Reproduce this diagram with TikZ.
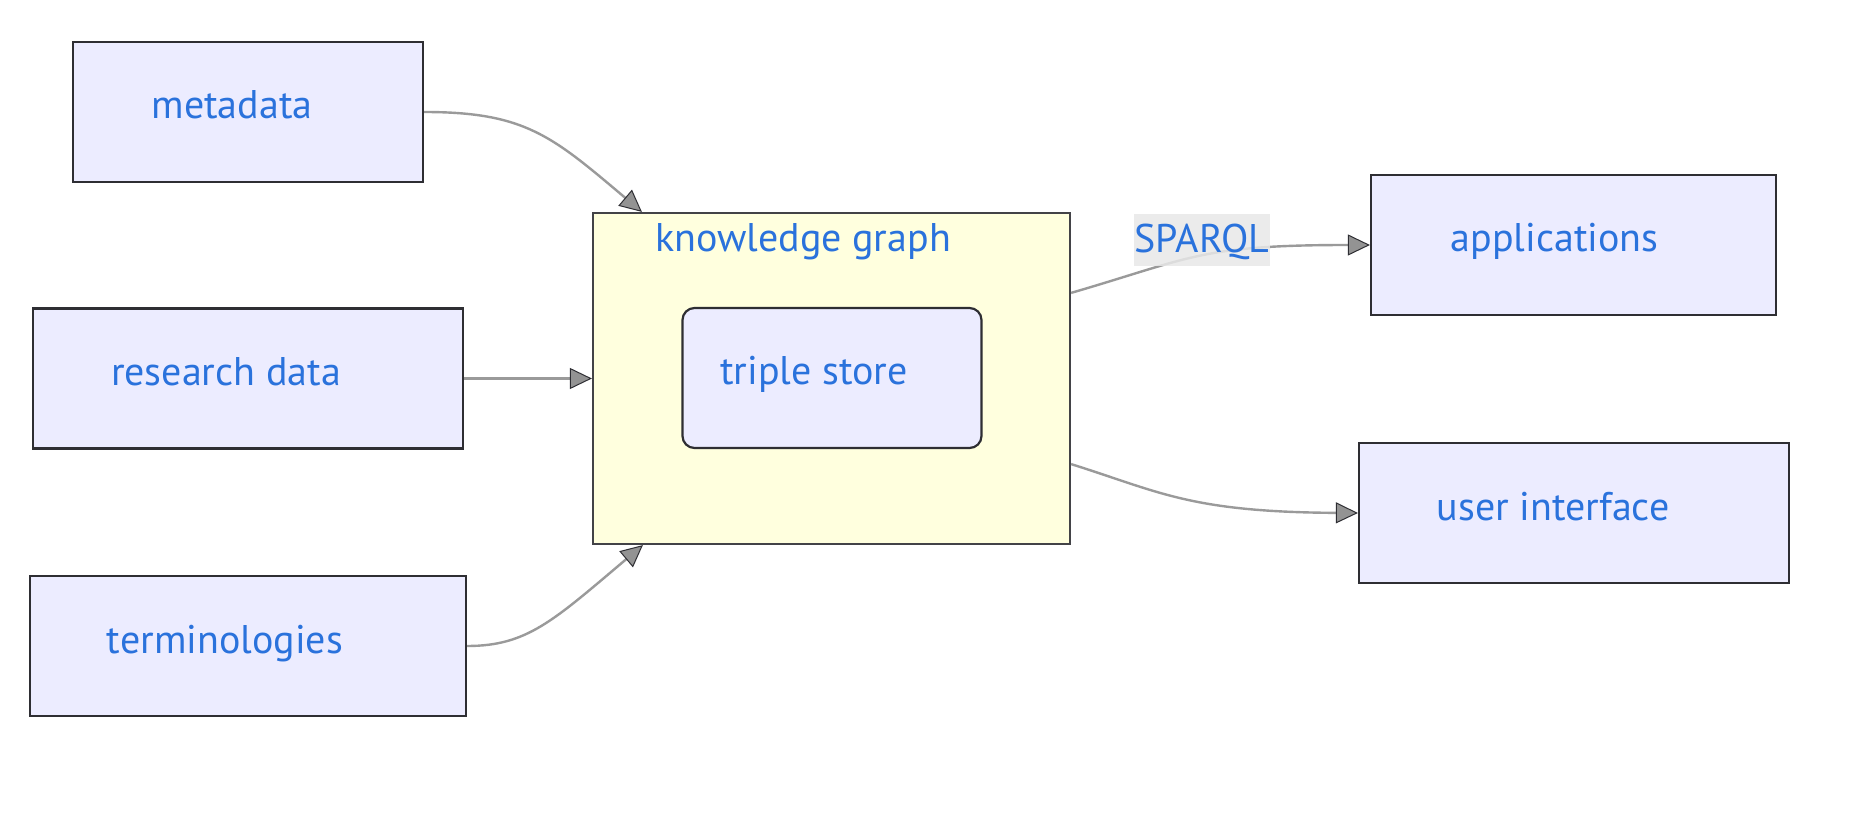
\documentclass[tikz,border=0pt]{standalone}
\usepackage{fontspec}
\setmainfont{PT Sans}
\usetikzlibrary{arrows.meta,calc}
\definecolor{txt}{HTML}{2A72DC}
\definecolor{boxfill}{HTML}{ECECFF}
\definecolor{boxline}{HTML}{2E2E33}
\definecolor{clfill}{HTML}{FFFFDE}
\definecolor{edgecol}{HTML}{9A9A9A}
\definecolor{arrowfill}{HTML}{939393}
\definecolor{lblbg}{HTML}{E8E8E8}
\begin{document}
\begin{tikzpicture}[x=0.5pt,y=-0.5pt,
  lbl/.style={font=\fontsize{20}{24}\selectfont, text=txt},
  box/.style={lbl, draw=boxline, line width=1.1pt, fill=boxfill, inner sep=0pt,
    minimum height=70pt, text height=7pt, text depth=0pt},
  cluster/.style={draw=boxline!90, line width=1.1pt, fill=clfill, inner sep=0pt},
  edge/.style={draw=edgecol, line width=1.2pt,
    -{Triangle[length=11pt,width=10.5pt,color=boxline,fill=arrowfill,line width=0.5pt]}}]
\useasboundingbox[fill=white] (0,0) rectangle (1852,828);

% nodes
\node[box, minimum width=175pt] (meta) at (248,112) {\hspace*{-16pt}metadata};
\node[box, minimum width=215pt] (research) at (248,378.5) {\hspace*{-22pt}research data};
\node[box, minimum width=218pt] (term) at (248,646) {\hspace*{-23pt}terminologies};
\node[cluster, minimum width=238.5pt, minimum height=165.5pt] (kg) at (831.5,378.5) {};
\node[lbl, anchor=base] (kgtitle) at (803,252) {knowledge graph};
\node[box, minimum width=149.5pt, rounded corners=6pt] (triple) at (832,378) {\hspace*{-18pt}triple store};
\node[box, minimum width=202.5pt] (apps) at (1573.5,245) {\hspace*{-19pt}applications};
\node[box, minimum width=215pt] (ui) at (1574,513) {\hspace*{-21pt}user interface};

% anchor points on the cluster border
\coordinate (kgin1) at ($(kg.north west)+(50,0)$);
\coordinate (kgin3) at ($(kg.south west)+(51,0)$);
\coordinate (kgout1) at ($(kg.north east)+(0,81)$);
\coordinate (kgout2) at ($(kg.south east)+(0,-81)$);

% connectors
\draw[edge] (meta.east) .. controls (525,112) and (552,136) .. (kgin1);
\draw[edge] (research.east) -- (kg.west);
\draw[edge] (term.east) .. controls (527,646) and (553,621) .. (kgin3);
\draw[edge] (kgout1) .. controls (1191,258) and (1200,245) .. (apps.west);
\draw[edge] (kgout2) .. controls (1160,492) and (1190,512) .. (ui.west);

% edge label
\node[lbl, fill=lblbg, fill opacity=0.85, text opacity=1, minimum width=68pt, minimum height=26pt,
  inner sep=0pt, text height=13pt, text depth=0pt] (sparql) at (1202,240) {SPARQL};
\end{tikzpicture}
\end{document}
